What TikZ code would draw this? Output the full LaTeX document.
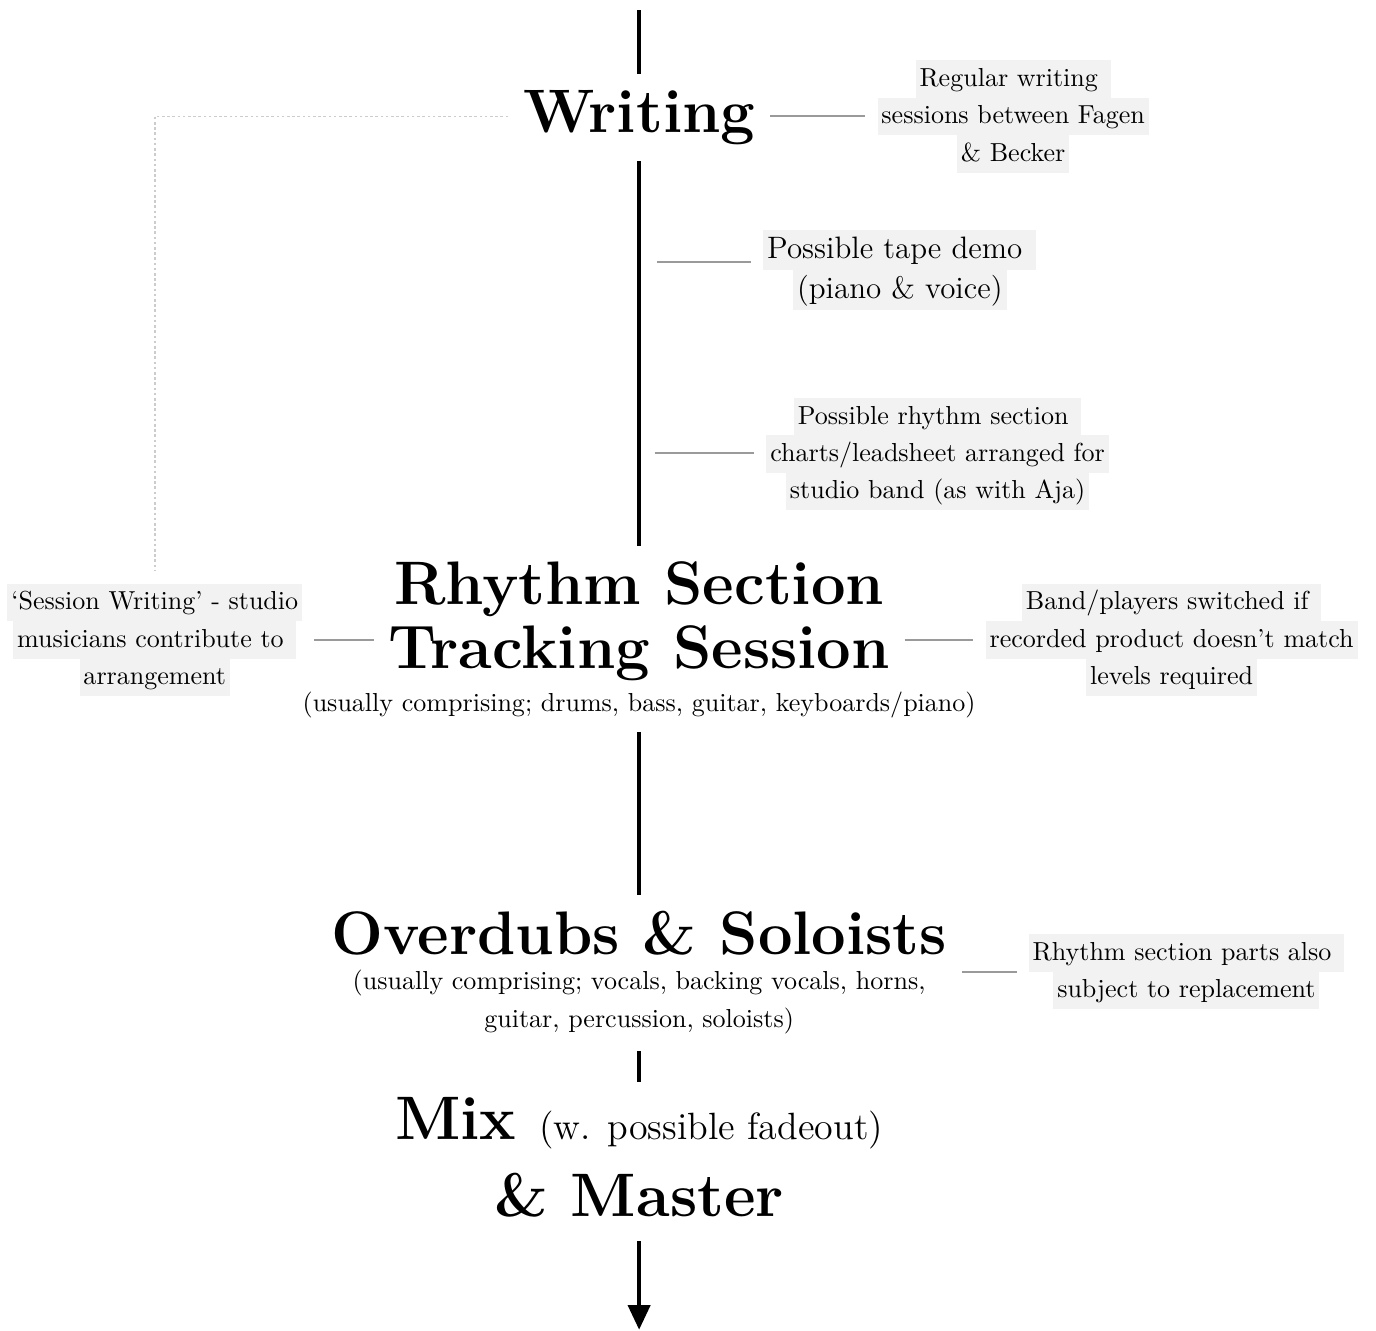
\documentclass[tikz,border=0pt]{standalone}
\usepackage{fontspec}
\usetikzlibrary{calc}
\usetikzlibrary{positioning}
\usetikzlibrary{arrows.meta}
\definecolor{notebg}{HTML}{F2F2F2}
\definecolor{linkgray}{HTML}{9A9A9A}
\definecolor{loopgray}{HTML}{CCCCCC}
\newcommand{\hlrow}[1]{{\setlength{\fboxsep}{0pt}\colorbox{notebg}{\rule[-0.3\baselineskip]{0pt}{\baselineskip}\hspace{1.5pt}#1\hspace{1.5pt}}}}
\tikzstyle{stagenode} = [font=\bfseries\fontsize{23.6}{24.4}\selectfont, align=center, inner xsep=5.5pt, inner ysep=6pt]
\tikzstyle{subnode} = [font=\fontsize{10}{14.4}\selectfont, align=center, inner sep=5pt]
\tikzstyle{notenode} = [font=\fontsize{10}{14.4}\selectfont, align=center, inner sep=4.5pt]
\tikzstyle{mainline} = [line width=1.5pt]
\tikzstyle{notelink} = [line width=0.8pt, color=linkgray]
\tikzstyle{loopline} = [line width=0.6pt, color=loopgray, dash pattern=on 1pt off 1pt]

\begin{document}
\begin{tikzpicture}
    \useasboundingbox (0,0) rectangle (18.58,-17.97);

    % stages down the middle
    \coordinate (top) at (8.63,-0.135);
    \node[stagenode, anchor=base] (writing) at (8.63,-1.79) {Writing};
    \node[stagenode] (rhythm) at (8.63,-8.39) {Rhythm Section\\Tracking Session};
    \node[subnode, anchor=base] (rhythm_sub) at (8.63,-9.61) {(usually comprising; drums, bass, guitar, keyboards/piano)};
    \node[stagenode, anchor=base] (overdubs) at (8.63,-12.89) {Overdubs \& Soloists};
    \node[subnode, inner ysep=6.5pt] (overdubs_sub) at (8.63,-13.53) {(usually comprising; vocals, backing vocals, horns,\\guitar, percussion, soloists)};
    \node[stagenode, font=\bfseries\fontsize{23.6}{29.5}\selectfont] (mix) at (8.63,-15.63) {Mix {\mdseries\fontsize{14.6}{17}\selectfont (w. possible fadeout)}\\\& Master};
    \coordinate (bottom) at (8.63,-17.955);

    \draw[mainline] (top) -- (writing.north);
    \draw[mainline] (writing.south) -- (rhythm.north);
    \draw[mainline] (rhythm_sub.south) -- (overdubs.north);
    \draw[mainline] (overdubs_sub.south) -- (mix.north);
    \draw[mainline, shorten <=3pt, -{Triangle[length=9.5pt, width=8.5pt]}] (mix.south) -- (bottom);

    % side notes
    \node[notenode] (writing_note) at (13.68,-1.57) {\hlrow{Regular writing\ }\\\hlrow{sessions between Fagen}\\\hlrow{\& Becker}};
    \draw[notelink] (writing_note.west -| writing.east) -- (writing_note.west);

    \coordinate (tape_tick) at (8.87,-3.54);
    \node[notenode, font=\fontsize{11.9}{15.4}\selectfont] (tape_note) at (12.15,-3.65) {\hlrow{Possible tape demo\ }\\\hlrow{(piano \& voice)}};
    \draw[notelink] (tape_tick) -- (tape_tick -| tape_note.west);

    \coordinate (charts_tick) at (8.84,-6.12);
    \node[notenode] (charts_note) at (12.66,-6.13) {\hlrow{Possible rhythm section\ }\\\hlrow{charts/leadsheet arranged for}\\\hlrow{studio band (as with Aja)}};
    \draw[notelink] (charts_tick) -- (charts_tick -| charts_note.west);

    \node[notenode] (sess_note) at (2.09,-8.64) {\hlrow{`Session Writing' - studio}\\\hlrow{musicians contribute to\ }\\\hlrow{arrangement}};
    \draw[notelink] (sess_note.east) -- (sess_note.east -| rhythm.west);
    \draw[loopline] (writing_note.west -| writing.west) -| (sess_note.north);

    \node[notenode] (band_note) at (15.82,-8.64) {\hlrow{Band/players switched if\ }\\\hlrow{recorded product doesn't match}\\\hlrow{levels required}};
    \draw[notelink] (band_note.west -| rhythm.east) -- (band_note.west);

    \node[notenode] (parts_note) at (16.02,-13.12) {\hlrow{Rhythm section parts also\ }\\\hlrow{subject to replacement}};
    \draw[notelink] (parts_note.west -| overdubs.east) -- (parts_note.west);
\end{tikzpicture}
\end{document}
